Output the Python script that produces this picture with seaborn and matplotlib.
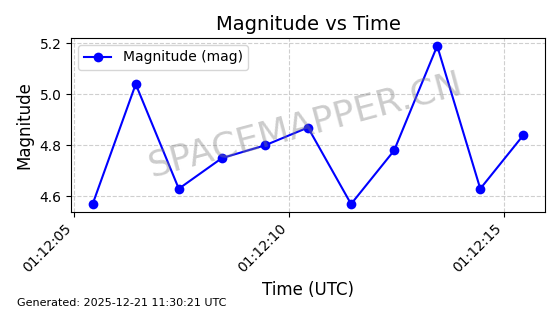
import matplotlib
matplotlib.use("Agg")
import matplotlib.pyplot as plt
import matplotlib.dates as mdates
import seaborn as sns
import pandas as pd

times = ["2025-12-21 01:12:05.44", "2025-12-21 01:12:06.44", "2025-12-21 01:12:07.44",
         "2025-12-21 01:12:08.44", "2025-12-21 01:12:09.44", "2025-12-21 01:12:10.44",
         "2025-12-21 01:12:11.44", "2025-12-21 01:12:12.44", "2025-12-21 01:12:13.44",
         "2025-12-21 01:12:14.44", "2025-12-21 01:12:15.44"]
magnitudes = [4.57, 5.04, 4.63, 4.75, 4.80, 4.87, 4.57, 4.78, 5.19, 4.63, 4.84]

df = pd.DataFrame({"time": pd.to_datetime(times), "mag": magnitudes})

fig = plt.figure(figsize=(5.6, 3.14), dpi=100)
ax = fig.add_axes([0.127, 0.325, 0.846, 0.554])
sns.lineplot(data=df, x="time", y="mag", ax=ax, color="blue", marker="o",
             markersize=7, markeredgewidth=0, linewidth=1.5, label="Magnitude (mag)")
ax.set_title("Magnitude vs Time", fontsize=14)
ax.set_xlabel("Time (UTC)", fontsize=12)
ax.set_ylabel("Magnitude", fontsize=12)
ax.xaxis.set_major_formatter(mdates.DateFormatter("%H:%M:%S"))
ax.xaxis.set_major_locator(mdates.SecondLocator(bysecond=[0, 5, 10, 15, 20, 25, 30, 35, 40, 45, 50, 55]))
plt.setp(ax.get_xticklabels(), rotation=45, ha="right")
ax.set_yticks([4.6, 4.8, 5.0, 5.2])
ax.grid(True, linestyle="--", alpha=0.6)
ax.legend(loc="upper left")
ax.text(0.495, 0.50, "SPACEMAPPER.CN", transform=ax.transAxes, fontsize=26,
        color="gray", alpha=0.4, rotation=15, ha="center", va="center")
fig.text(0.03, 0.025, "Generated: 2025-12-21 11:30:21 UTC", fontsize=8)
fig.savefig("out.png", dpi=100)
